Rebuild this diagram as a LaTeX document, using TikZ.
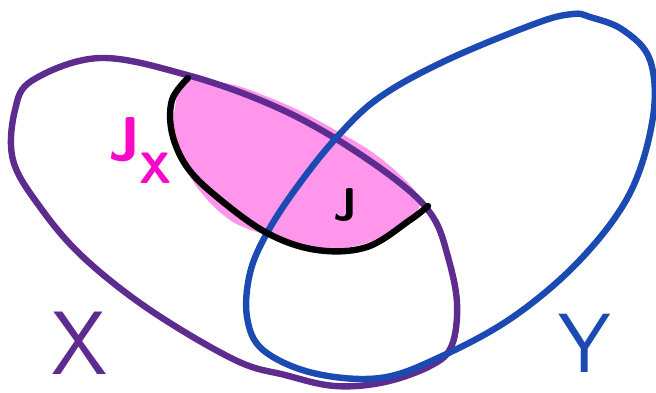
\documentclass[tikz,border=0pt]{standalone}
\usepackage{amsmath}
\usetikzlibrary{calc}
\definecolor{setX}{RGB}{94,44,142}
\definecolor{setY}{RGB}{26,74,178}
\definecolor{blobJ}{RGB}{255,150,236}
\definecolor{labJ}{RGB}{250,10,200}
\tikzset{pen/.style={line width=6.4pt,line join=round,line cap=round},
  hand/.style={font=\sffamily\bfseries\fontsize{62}{66}\selectfont,inner sep=0pt}}
\begin{document}
\begin{tikzpicture}[x=1pt,y=-1pt]
\useasboundingbox (0,0) rectangle (656,393);
% the shaded part J_X
\fill[blobJ] plot[smooth cycle,tension=0.6] coordinates {(186,80) (230,84) (268,97) (302,112) (337,131) (372,152) (401,176) (419,198) (414,216) (390,232) (360,245) (317,249) (270,236) (233,222) (204,196) (184,165) (174,130) (177,96)};
% set X
\draw[setX,pen] plot[smooth cycle,tension=0.6] coordinates {(33,80) (100,58) (187,75) (267,103) (333,137) (400,183) (433,217) (448,257) (457,303) (452,345) (432,365) (385,382) (335,386) (285,375) (235,360) (150,310) (83,257) (40,207) (13,160) (15,110)};
% set Y
\draw[setY,pen] plot[smooth cycle,tension=0.6] coordinates {(573,14) (537,23) (447,60) (380,97) (337,137) (297,187) (267,233) (250,273) (247,317) (263,350) (313,373) (380,378) (440,357) (513,317) (580,260) (630,193) (653,117) (650,60) (623,30) (590,17)};
% cut of J
\draw[black,pen] plot[smooth,tension=0.6] coordinates {(188,78) (172,100) (172,133) (187,167) (217,197) (267,233) (317,250) (367,247) (410,220) (428,206)};
\node[hand,labJ] (jx) at (125,140) {J};
\node[hand,labJ,font=\sffamily\bfseries\fontsize{44}{48}\selectfont] (jxsub) at (156,168) {X};
\node[hand,black,font=\sffamily\bfseries\fontsize{46}{50}\selectfont] (j) at (345,205) {J};
\node[hand,setX,font=\sffamily\fontsize{90}{90}\selectfont] (xlab) at (80,343) {X};
\node[hand,setY,font=\sffamily\fontsize{84}{88}\selectfont] (ylab) at (585,343) {Y};
\end{tikzpicture}
\end{document}
